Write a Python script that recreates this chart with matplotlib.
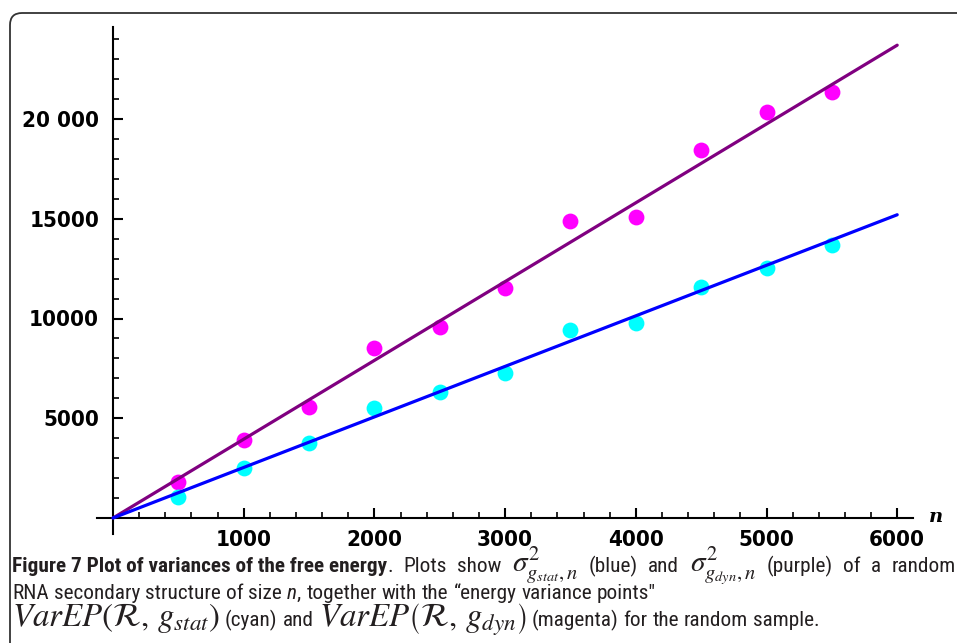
import matplotlib
matplotlib.use('Agg')
import matplotlib.pyplot as plt
from matplotlib import font_manager as fm
from matplotlib.patches import FancyBboxPatch
from matplotlib.transforms import IdentityTransform
from matplotlib.ticker import MultipleLocator, FixedLocator, FuncFormatter

# energy variance points (random sample)
n_points = [500, 1000, 1500, 2000, 2500, 3000, 3500, 4000, 4500, 5000, 5500]
varep_stat = [1070, 2510, 3760, 5510, 6320, 7270, 9420, 9770, 11580, 12530, 13680]
varep_dyn = [1820, 3910, 5560, 8520, 9570, 11530, 14890, 15090, 18450, 20350, 21350]

# variance curves sigma^2_{g,n}
fit_n = [0, 6000]
sigma_stat = [0, 15200]
sigma_dyn = [0, 23700]

x_major = [1000, 2000, 3000, 4000, 5000, 6000]
y_major = [5000, 10000, 15000, 20000]

names = {f.name for f in fm.fontManager.ttflist}


def pick(*cands):
    for c in cands:
        if c in names:
            return c
    return 'DejaVu Sans'


cap_font = pick('Roboto Condensed', 'Fira Sans Condensed', 'Barlow Semi Condensed',
                'PT Sans Narrow', 'Asap Condensed')
plt.rcParams['mathtext.fontset'] = 'stix'

W, H = 957, 643
fig = plt.figure(figsize=(W / 100, H / 100), dpi=100)

# axes placed so that n=0 -> x 113 px, value 0 -> y 518 px
x0, sx = 113, 0.1307
y0, sy = 518, 0.01995
xlim = (-120, 6120)
ylim = (-800, 24600)
left = x0 + xlim[0] * sx
right = x0 + xlim[1] * sx
top = y0 - ylim[1] * sy
bottom = y0 - ylim[0] * sy
ax = fig.add_axes([left / W, 1 - bottom / H, (right - left) / W, (bottom - top) / H])
ax.set_xlim(*xlim)
ax.set_ylim(*ylim)
ax.patch.set_alpha(0)

ax.scatter(n_points, varep_dyn, s=130, color='#ff00ff', linewidths=0, zorder=2)
ax.scatter(n_points, varep_stat, s=130, color='#00ffff', linewidths=0, zorder=2)
ax.plot(fit_n, sigma_dyn, color='#800080', lw=2.3, zorder=3, solid_capstyle='round')
ax.plot(fit_n, sigma_stat, color='#0000ff', lw=2.3, zorder=3, solid_capstyle='round')

for side in ['top', 'right']:
    ax.spines[side].set_visible(False)
ax.spines['left'].set_position(('data', 0))
ax.spines['bottom'].set_position(('data', 0))
for side in ['left', 'bottom']:
    ax.spines[side].set_linewidth(1.5)

ax.xaxis.set_major_locator(FixedLocator(x_major))
ax.xaxis.set_minor_locator(MultipleLocator(200))
ax.yaxis.set_major_locator(FixedLocator(y_major))
ax.yaxis.set_minor_locator(MultipleLocator(1000))
ax.yaxis.set_major_formatter(FuncFormatter(
    lambda v, p: f"{int(v) // 1000} {int(v) % 1000:03d}" if v >= 20000 else str(int(v))))
ax.tick_params(which='major', direction='in', length=7, width=1.5)
ax.tick_params(which='minor', direction='in', length=4, width=1.2)
ax.tick_params(axis='x', pad=9)
ax.tick_params(axis='y', pad=10)
for lab in ax.get_xticklabels() + ax.get_yticklabels():
    lab.set_fontfamily('DejaVu Sans')
    lab.set_fontstretch('condensed')
    lab.set_fontsize(16)
    lab.set_fontweight('bold')

ax.text(936, H - 517, 'n', transform=IdentityTransform(), fontsize=14, fontstyle='italic',
        fontweight='bold', family='DejaVu Serif', ha='center', va='center')

# rounded frame
frame = FancyBboxPatch((10, -30), 1000, H - 13 + 30, boxstyle='round,pad=0,rounding_size=12',
                       transform=IdentityTransform(), fill=False, lw=1.3, ec='#333333')
fig.add_artist(frame)

renderer = fig.canvas.get_renderer()


def width(s, **kw):
    t = fig.text(0, 0, s, transform=IdentityTransform(), **kw)
    w = t.get_window_extent(renderer).width
    t.remove()
    return w


GAP = 5
ink = '#231f20'
head = "Figure 7 Plot of variances of the free energy"

# caption text size: bold heading about 376 px wide
cs = 12 * 376 / width(head, family=cap_font, fontsize=12, fontweight='bold')
normal = dict(family=cap_font, fontsize=cs, color=ink)
bold = dict(family=cap_font, fontsize=cs, fontweight='bold', color=ink)
ital = dict(family=cap_font, fontsize=cs, fontstyle='italic', color=ink)

varep1 = r"$VarEP\left(\mathcal{R},\,g_{stat}\right)$"
varep2 = r"$VarEP\left(\mathcal{R},\,g_{dyn}\right)$"
sig1 = r"$\sigma^2_{g_{stat},n}$"
sig2 = r"$\sigma^2_{g_{dyn},n}$"

# math size in line 3: line ends near x = 820
rest3 = width("(cyan) and", **normal) + width("(magenta) for the random sample.", **normal) + 3 * GAP
msize = 20 * (808 - rest3) / (width(varep1, fontsize=20) + width(varep2, fontsize=20))
msize = max(min(msize, 1.7 * cs), 1.2 * cs)
math3 = dict(fontsize=msize, color=ink)
math1 = dict(fontsize=1.38 * cs, color=ink)


def words(s, props):
    return [(w, props, True) for w in s.split(' ')]


# tokens: (text, props, space after)
line1 = ([(head, bold, False)] + words(". Plots show", normal) + [(sig1, math1, True)]
         + words("(blue) and", normal) + [(sig2, math1, True)] + words("(purple) of a random", normal))
line2 = (words("RNA secondary structure of size", normal) + [("n", ital, False)]
         + words(", together with the \u201cenergy variance points\"", normal))
line3 = ([(varep1, math3, True)] + words("(cyan) and", normal) + [(varep2, math3, True)]
         + words("(magenta) for the random sample.", normal))

for ybase, toks, justify in [(572, line1, True), (599, line2, False), (626, line3, False)]:
    toks[-1] = (toks[-1][0], toks[-1][1], False)
    widths = [width(s, **p) for s, p, _ in toks]
    nsp = sum(1 for t in toks if t[2])
    gap = (944 - sum(widths)) / nsp if justify else GAP
    x = 12
    for (s, p, sp), w in zip(toks, widths):
        fig.text(x, H - ybase, s, transform=IdentityTransform(), ha='left', va='baseline', **p)
        x += w + (gap if sp else 0)

fig.savefig('out.png', dpi=100)
